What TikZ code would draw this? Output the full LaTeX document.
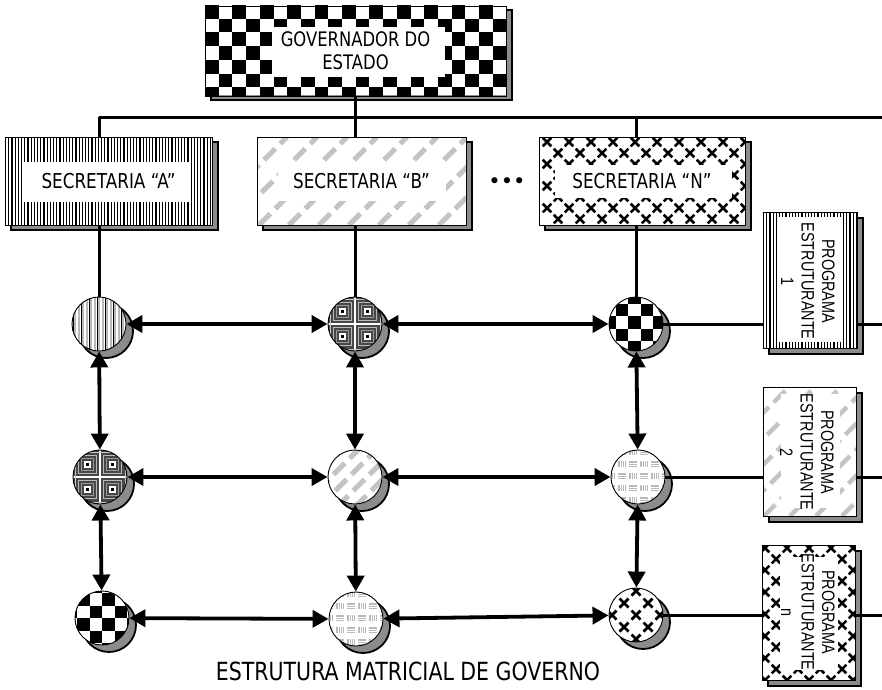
\documentclass[tikz,border=0pt]{standalone}
\usepackage{fontspec}
\setmainfont[FakeStretch=0.82]{DejaVu Sans}
\newfontfamily\narrowfont[FakeStretch=0.8]{Liberation Sans}
\newfontfamily\dotfont{DejaVu Sans}
\usetikzlibrary{arrows.meta}
\definecolor{shadowgray}{HTML}{8C8C8C}
\definecolor{hatchgray}{HTML}{C4C4C4}

% vertical lines
\newcommand{\PVL}[6]{%
  \pgfmathtruncatemacro{\pcnA}{#3/#5+1}%
  \foreach \k in {0,...,\pcnA}{\draw[line width=#6] (#1+\k*#5+0.6,#2) -- (#1+\k*#5+0.6,#2+#4);}}
% checkerboard
\newcommand{\PCHK}[5]{%
  \pgfmathtruncatemacro{\pcnI}{#3/#5}%
  \pgfmathtruncatemacro{\pcnJ}{#4/#5}%
  \foreach \i in {0,...,\pcnI}{\foreach \j in {0,...,\pcnJ}{%
    \pgfmathtruncatemacro{\pcpp}{mod(\i+\j,2)}%
    \ifnum\pcpp=0 \fill[black] (#1+\i*#5,#2+\j*#5) rectangle ++(#5,#5);\fi}}}
% light grey diagonal strips
\newcommand{\PDG}[6]{%
  \pgfmathtruncatemacro{\pcnD}{(#3+#4)/#5+1}%
  \foreach \k in {0,...,\pcnD}{\draw[hatchgray, line width=#6, dash pattern=on 16pt off 7pt] (#1-#4+\k*#5,#2+#4) -- ++(#4,-#4);}}
% crosses
\newcommand{\PXX}[7]{%
  \pgfmathtruncatemacro{\pcnX}{#3/#5+1}%
  \pgfmathtruncatemacro{\pcnY}{2*#4/#5+1}%
  \foreach \i in {0,...,\pcnX}{\foreach \j in {0,...,\pcnY}{%
    \pgfmathsetmacro{\pcx}{#1+\i*#5+mod(\j,2)*#5/2}%
    \pgfmathsetmacro{\pcy}{#2+\j*#5/2}%
    \draw[line width=#7] (\pcx-#6,\pcy-#6) -- (\pcx+#6,\pcy+#6) (\pcx-#6,\pcy+#6) -- (\pcx+#6,\pcy-#6);}}}
% dark tile pattern
\newcommand{\PTILE}[2]{%
  \fill[black!72] (#1-30,#2-30) rectangle (#1+30,#2+30);
  \foreach \a in {-1,1}{\foreach \b in {-1,1}{%
    \pgfmathsetmacro{\ptX}{#1+\a*12.5}\pgfmathsetmacro{\ptY}{#2+\b*12.5}%
    \draw[gray!55, line width=0.8pt] (\ptX-9,\ptY-9) rectangle (\ptX+9,\ptY+9);
    \draw[gray!80, line width=0.8pt] (\ptX-6,\ptY-6) rectangle (\ptX+6,\ptY+6);
    \fill[white] (\ptX-3.5,\ptY-3.5) rectangle (\ptX+3.5,\ptY+3.5);
    \fill[black] (\ptX-1.8,\ptY-1.8) rectangle (\ptX+1.8,\ptY+1.8);}}
  \draw[white, line width=1.6pt] (#1,#2-30) -- (#1,#2+30) (#1-30,#2) -- (#1+30,#2);
  \draw[gray!45, line width=0.8pt] (#1-25,#2-30) -- (#1-25,#2+30) (#1+25,#2-30) -- (#1+25,#2+30) (#1-30,#2-25) -- (#1+30,#2-25) (#1-30,#2+25) -- (#1+30,#2+25);}
% grey block pattern
\newcommand{\PBRK}[2]{%
  \foreach \j in {0,...,4}{\foreach \i in {0,...,5}{%
    \pgfmathsetmacro{\pbx}{#1-31+\i*11}\pgfmathsetmacro{\pby}{#2-28+\j*12}%
    \fill[gray!55] (\pbx,\pby) rectangle ++(8,6);
    \pgfmathtruncatemacro{\pcpp}{mod(\i+\j,2)}%
    \ifnum\pcpp=0 \draw[white,line width=0.7pt] (\pbx+2,\pby) -- ++(0,6) (\pbx+4,\pby) -- ++(0,6) (\pbx+6,\pby) -- ++(0,6);
    \else \draw[white,line width=0.7pt] (\pbx,\pby+2) -- ++(8,0) (\pbx,\pby+4) -- ++(8,0);\fi}}}
% circle with shadow
\newcommand{\pcirc}[4]{%
  \path[fill=shadowgray, draw=black, line width=1.8pt] (#2+7,#3+7) circle[radius=27pt];
  \fill[white] (#2,#3) circle[radius=27pt];
  \begin{scope}\clip (#2,#3) circle[radius=27pt]; #4 \end{scope}
  \node[circnode] (#1) at (#2,#3) {};}

\begin{document}
\begin{tikzpicture}[x=1pt,y=-1pt,
  conn/.style={line width=3pt},
  dbl/.style={line width=3.8pt,{Triangle[length=16pt,width=17pt]}-{Triangle[length=16pt,width=17pt]}},
  frame/.style={draw=black, line width=0.9pt, inner sep=0pt},
  circnode/.style={circle, draw=black, line width=0.9pt, minimum size=54pt, inner sep=0pt},
  boxshadow/.style={fill=shadowgray, draw=black, line width=1.8pt},
  sectext/.style={font=\fontsize{20.5}{24}\selectfont},
  ptext/.style={font=\narrowfont\fontsize{18}{20.5}\selectfont, align=center, rotate=-90, inner sep=0pt},
  ]
\fill[white] (0,0) rectangle (882,689);
\path[use as bounding box] (0,0) rectangle (882,689);

% Governador
\path[boxshadow] (211,10) rectangle (512,100);
\fill[white] (205,5) rectangle (506,95);
\begin{scope}\clip (205,5) rectangle (506,95); \PCHK{205}{5}{301}{90}{13.7} \end{scope}
\fill[white] (272,27) rectangle (445,77);
\node[frame, minimum width=301pt, minimum height=90pt, align=center, font=\fontsize{20}{23}\selectfont] (gov) at (355.5,51) {GOVERNADOR DO\\ESTADO};

% Secretaria A
\path[boxshadow] (11,142) rectangle (218,230);
\fill[white] (5,137) rectangle (212,225);
\begin{scope}\clip (5,137) rectangle (212,225); \PVL{5}{137}{207}{88}{3.2}{1.1pt} \end{scope}
\fill[white] (23,162) rectangle (190,202);
\node[frame, sectext, minimum width=207pt, minimum height=88pt] (sA) at (108.5,181) {SECRETARIA “A”};

% Secretaria B
\path[boxshadow] (263,142) rectangle (472,230);
\fill[white] (257,137) rectangle (466,225);
\begin{scope}\clip (257,137) rectangle (466,225); \PDG{257}{137}{209}{88}{30}{5pt} \end{scope}
\fill[white] (278,163) rectangle (446,201);
\node[frame, sectext, minimum width=209pt, minimum height=88pt] (sB) at (361.5,181) {SECRETARIA “B”};

% dots
\node[font=\dotfont\fontsize{21}{24}\selectfont] (dots) at (507,183) {•••};

% Secretaria N
\path[boxshadow] (545,142) rectangle (751,230);
\fill[white] (539,137) rectangle (745,225);
\begin{scope}\clip (539,137) rectangle (745,225); \PXX{547}{142}{206}{88}{22}{4.3}{2.5pt} \end{scope}
\fill[white] (555,165) rectangle (732,198);
\node[frame, sectext, minimum width=206pt, minimum height=88pt] (sN) at (642,181) {SECRETARIA “N”};

% Programa 1
\path[boxshadow] (769,218) rectangle (863,354);
\fill[white] (763,212) rectangle (857,348);
\begin{scope}\clip (763,212) rectangle (857,348); \PVL{763}{212}{94}{136}{3.2}{1.1pt} \end{scope}
\fill[white] (778,217) rectangle (843,342);
\node[frame, minimum width=94pt, minimum height=136pt] (P1) at (810,280) {};
\node[ptext] (P1t) at (808,281) {PROGRAMA\\ESTRUTURANTE\\1};

% Programa 2
\path[boxshadow] (769,393) rectangle (862,522);
\fill[white] (763,387) rectangle (856,516);
\begin{scope}\clip (763,387) rectangle (856,516); \PDG{763}{387}{93}{129}{26}{4.5pt} \end{scope}
\fill[white] (781,394) rectangle (840,508);
\node[frame, minimum width=93pt, minimum height=129pt] (P2) at (809.5,451.5) {};
\node[ptext] (P2t) at (807,452) {PROGRAMA\\ESTRUTURANTE\\2};

% Programa n
\path[boxshadow] (768,551) rectangle (861,686);
\fill[white] (762,545) rectangle (855,680);
\begin{scope}\clip (762,545) rectangle (855,680); \PXX{765}{548}{93}{135}{22}{4.3}{2.5pt} \end{scope}
\fill[white] (780,557) rectangle (838,670);
\node[frame, minimum width=93pt, minimum height=135pt] (Pn) at (808.5,612.5) {};
\node[ptext] (Pnt) at (808,612) {PROGRAMA\\ESTRUTURANTE\\n};

% circles
\pcirc{A1}{99}{324}{\foreach \k in {0,...,14}{\draw[gray!55,line width=1.4pt] (71+\k*4,295) -- ++(0,60);} \foreach \k in {0,...,7}{\draw[black,line width=0.35pt] (73+\k*8,295) -- ++(0,60);}}
\pcirc{B1}{355}{324}{\PTILE{355}{324}}
\pcirc{N1}{636}{324}{\PCHK{603}{291}{66}{66}{12.5}}
\pcirc{A2}{100}{477}{\PTILE{100}{477}}
\pcirc{B2}{355}{477}{\PDG{325}{447}{60}{60}{18}{5pt}}
\pcirc{N2}{638}{477}{\PBRK{638}{477}}
\pcirc{A3}{102}{618}{\PCHK{64.5}{580.5}{75}{75}{12.5}}
\pcirc{B3}{356}{619}{\PBRK{356}{619}}
\pcirc{N3}{636}{615}{\PXX{600}{579}{72}{72}{24}{4.5}{2.8pt}}

% title
\node[font=\fontsize{25}{28}\selectfont] (title) at (408,671) {ESTRUTURA MATRICIAL DE GOVERNO};

% connectors
\coordinate (hl) at (99,117);
\coordinate (hb) at (355,117);
\coordinate (hn) at (636,117);
\coordinate (hr) at (882,117);
\draw[conn] (gov.south) -- (gov.south |- hl);
\draw[conn] (hl) -- (hr);
\draw[conn] (hl) -- (hl |- sA.north);
\draw[conn] (hb) -- (hb |- sB.north);
\draw[conn] (hn) -- (hn |- sN.north);
\draw[conn] (sA.south -| A1) -- (A1);
\draw[conn] (sB.south -| B1) -- (B1);
\draw[conn] (sN.south -| N1) -- (N1);

\draw[dbl] (A1) -- (B1);
\draw[dbl] (B1) -- (N1);
\draw[dbl] (A2) -- (B2);
\draw[dbl] (B2) -- (N2);
\draw[dbl] (A3) -- (B3);
\draw[dbl] (B3) -- (N3);
\draw[dbl] (A1) -- (A2);
\draw[dbl] (A2) -- (A3);
\draw[dbl] (B1) -- (B2);
\draw[dbl] (B2) -- (B3);
\draw[dbl] (N1) -- (N2);
\draw[dbl] (N2) -- (N3);

\coordinate (e1) at (882,324);
\coordinate (e2) at (882,477);
\coordinate (e3) at (882,615);
\draw[conn] (N1) -- (N1 -| P1.west);
\draw[conn] (P1.east |- N1) -- (e1);
\draw[conn] (N2) -- (N2 -| P2.west);
\draw[conn] (P2.east |- N2) -- (e2);
\draw[conn] (N3) -- (N3 -| Pn.west);
\draw[conn] (Pn.east |- N3) -- (e3);
\end{tikzpicture}
\end{document}
